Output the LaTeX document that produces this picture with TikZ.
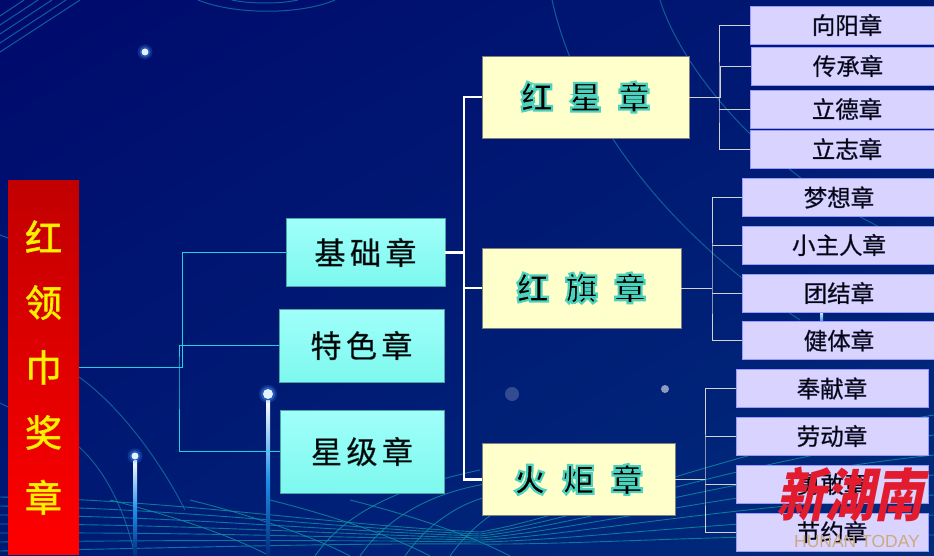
\documentclass[tikz,border=0pt]{standalone}
\usepackage{fontspec}
\setmainfont{Liberation Sans}
\newfontfamily\cjk{Noto Sans CJK SC}
\usetikzlibrary{calc, positioning, shadings}

\definecolor{bgdark}{HTML}{000A6C}
\definecolor{bgmid}{HTML}{001A74}
\definecolor{bglight}{HTML}{002C7C}
\definecolor{wirecyan}{HTML}{1FD3DC}
\definecolor{wiregrey}{HTML}{D2D2D2}
\definecolor{decoblue}{HTML}{0F5F96}
\definecolor{decoteal}{HTML}{0E8FA4}
\definecolor{halo}{HTML}{4AA0FF}
\definecolor{pillar}{HTML}{1E90E8}
\definecolor{basetop}{HTML}{A0FFFA}
\definecolor{basebot}{HTML}{7DF8EE}
\definecolor{leaffill}{HTML}{D8D4FF}
\definecolor{levelfill}{HTML}{FFFFCC}
\definecolor{markred}{HTML}{E21C2E}
\definecolor{marktan}{HTML}{CDAA7D}

% text with a coloured outline: rgb, width, text
\newcommand{\outlined}[3]{\special{pdf:code q #1 RG #2 w 2 Tr}#3\special{pdf:code Q}}
\newcommand{\rootch}[1]{\outlined{0.95 0.9 0}{0.7}{#1}}
\newcommand{\leaftxt}[1]{\outlined{0.2 0.2 0.4}{0.35}{#1}}
\newcommand{\basetxt}[1]{\spaceskip=4.5pt\relax\outlined{0.1 0.3 0.3}{0.4}{#1}}
\newcommand{\leveltxt}[1]{\spaceskip=16.5pt\relax\outlined{0.3 0.82 0.74}{2.2}{#1}}
\newcommand{\lightdot}[3]{%
\fill[halo, opacity=0.2] (#1,#2) circle (#3+4);
\fill[halo, opacity=0.35] (#1,#2) circle (#3+2);
\fill[white!85!halo] (#1,#2) circle (#3);}

\begin{document}
\begin{tikzpicture}[x=1pt, y=-1pt]

\tikzstyle{rootbox} = [draw=none, top color=red!76!black, bottom color=red, minimum width=71, minimum height=373, inner sep=0, align=center, text=yellow, font=\cjk\fontsize{37}{65}\selectfont];
\tikzstyle{basebox} = [draw=teal!70, line width=0.7pt, top color=basetop, bottom color=basebot, inner sep=0, text=black, font=\cjk\fontsize{31}{32}\selectfont];
\tikzstyle{levelbox} = [draw=gray, line width=0.7pt, fill=levelfill, inner sep=0, text=black, font=\cjk\bfseries\fontsize{32}{32}\selectfont];
\tikzstyle{leafbox} = [draw=blue!40, line width=0.6pt, fill=leaffill, minimum height=38, inner sep=0, text=black, font=\cjk\fontsize{23.5}{24}\selectfont];
\tikzstyle{wireA} = [wirecyan, line width=0.8pt];
\tikzstyle{wireB} = [white, line width=2.8pt];
\tikzstyle{wireC} = [wiregrey, line width=0.8pt];
\tikzstyle{deco} = [decoblue, line width=1pt];
\tikzstyle{net} = [decoteal, line width=0.9pt, opacity=0.8];

\clip (0,0) rectangle (934,556);
\shade [upper left=bgdark, upper right=bgmid, lower left=bgmid, lower right=bglight] (0,0) rectangle (934,556);

% top corner and top arcs
\foreach \i in {0,1,2,3,4}
	\draw [deco] (0,52-9*\i) -- (80-14*\i,0);
\draw [deco] (198,0) .. controls (235,15) and (300,15) .. (335,0);
\draw [deco] (232,0) .. controls (250,4) and (280,4) .. (298,0);

% big arcs
\draw [deco] (552,0) .. controls (572,90) and (640,215) .. (800,320);
\draw [deco] (660,0) .. controls (685,80) and (790,200) .. (934,250);
\draw [deco] (79,377) .. controls (125,410) and (165,470) .. (185,510);
\draw [deco] (79,447) .. controls (105,470) and (125,510) .. (135,556);
\draw [deco] (0,235) -- (8,238);
\draw [deco] (0,403) -- (8,407);

% ground net
\foreach \i in {0,1,2,3,4,5,6}
	\draw [net] (0,497+9*\i) .. controls (180,500+8*\i) and (330,525+3*\i) .. (480,532+2*\i) .. controls (580,515+5*\i) and (720,450+14*\i) .. (934,415+20*\i);
\foreach \i in {0,1,2,3}
	\draw [net] (110+80*\i,500) .. controls (170+80*\i,515) and (230+80*\i,535) .. (270+80*\i,556);
\foreach \i in {0,1,2,3}
	\draw [net] (315+45*\i,556) .. controls (340+45*\i,520) and (385+45*\i,490) .. (480+20*\i,470+12*\i);

% lights
\shade [top color=white, bottom color=pillar] (266,400) rectangle (270,480);
\shade [top color=pillar, bottom color=bglight] (266,480) rectangle (270,556);
\shade [top color=white, bottom color=pillar] (133.5,460) rectangle (137,510);
\shade [top color=pillar, bottom color=bglight] (133.5,510) rectangle (137,556);
\shade [top color=white, bottom color=pillar] (820,310) rectangle (823,322);
\lightdot{145}{52}{3.5}
\lightdot{268}{394}{5}
\lightdot{135}{456}{3.5}
\fill [white, opacity=0.2] (512,394) circle (7);
\fill [white, opacity=0.55] (665,389) circle (4);

\node(root) [rootbox] at (43.5,367.5) {\rootch{红}\\\rootch{领}\\\rootch{巾}\\\rootch{奖}\\\rootch{章}};

\node(jichu) [basebox, minimum width=159, minimum height=68] at (365.5,252.5) {\basetxt{基 础 章}};
\node(tese) [basebox, minimum width=165, minimum height=73] at (361.5,345.5) {\basetxt{特 色 章}};
\node(xingji) [basebox, minimum width=164, minimum height=83] at (362,451.5) {\basetxt{星 级 章}};

\node(hongxing) [levelbox, minimum width=207, minimum height=82] at (585.5,97) {\leveltxt{红 星 章}};
\node(hongqi) [levelbox, minimum width=199, minimum height=80] at (581.5,288) {\leveltxt{红 旗 章}};
\node(huoju) [levelbox, minimum width=193, minimum height=72] at (578.5,479.5) {\leveltxt{火 炬 章}};

\node(xiangyang) [leafbox, minimum width=194] at (847,25) {\leaftxt{向阳章}};
\node(chuancheng) [leafbox, minimum width=194] at (848,66) {\leaftxt{传承章}};
\node(lide) [leafbox, minimum width=194] at (847,109) {\leaftxt{立德章}};
\node(lizhi) [leafbox, minimum width=194] at (847,149) {\leaftxt{立志章}};

\node(mengxiang) [leafbox, minimum width=194] at (839,197.5) {\leaftxt{梦想章}};
\node(xiaozhu) [leafbox, minimum width=194] at (839,245) {\leaftxt{小主人章}};
\node(tuanjie) [leafbox, minimum width=194] at (839,293) {\leaftxt{团结章}};
\node(jianti) [leafbox, minimum width=194] at (839,340.5) {\leaftxt{健体章}};

\node(fengxian) [leafbox, minimum width=192] at (832,388.5) {\leaftxt{奉献章}};
\node(laodong) [leafbox, minimum width=192] at (832,436) {\leaftxt{劳动章}};
\node(yonggan) [leafbox, minimum width=192] at (832,484) {\leaftxt{勇敢章}};
\node(jieyue) [leafbox, minimum width=192] at (832,532) {\leaftxt{节约章}};

\coordinate(busA) at (182,367.5);
\coordinate(busB) at (179,367.5);
\coordinate(busC) at (464,252.5);
\coordinate(busD) at (720,97);
\coordinate(trunkD) at (719,97);
\coordinate(trunkE) at (712,288);
\coordinate(trunkF) at (705,479.5);

\draw [wireA] (root.east) -- (busA) |- (jichu.west);
\draw [wireA] (tese.west) -| (busB) |- (xingji.west);

\draw [wireB] (jichu.east) -- (busC);
\draw [wireB] (hongxing.west) -| (busC) |- (huoju.west);
\draw [wireB] (busC |- hongqi.west) -- (hongqi.west);

\draw [wireC] (hongxing.east) -- (busD) |- (chuancheng.west);
\draw [wireC] (xiangyang.west) -| (trunkD) |- (lizhi.west);
\draw [wireC] (trunkD |- lide.west) -- (lide.west);

\draw [wireC] (hongqi.east) -- (trunkE);
\draw [wireC] (mengxiang.west) -| (trunkE) |- (jianti.west);
\draw [wireC] (trunkE |- xiaozhu.west) -- (xiaozhu.west);
\draw [wireC] (trunkE |- tuanjie.west) -- (tuanjie.west);

\draw [wireC] (huoju.east) -- (trunkF);
\draw [wireC] (fengxian.west) -| (trunkF) |- (jieyue.west);
\draw [wireC] (trunkF |- laodong.west) -- (laodong.west);
\draw [wireC] (trunkF |- yonggan.west) -- (yonggan.west);

\node(mark) [text=markred, font=\cjk\bfseries\fontsize{46}{46}\selectfont, inner sep=0, xslant=0.2, xscale=1.06, yscale=1.25, transform shape] at (854,495) {新湖南};
\node(markline) [text=marktan, font=\fontsize{17.5}{18}\selectfont, inner sep=0] at (857,541) {HUNAN TODAY};

\end{tikzpicture}
\end{document}
